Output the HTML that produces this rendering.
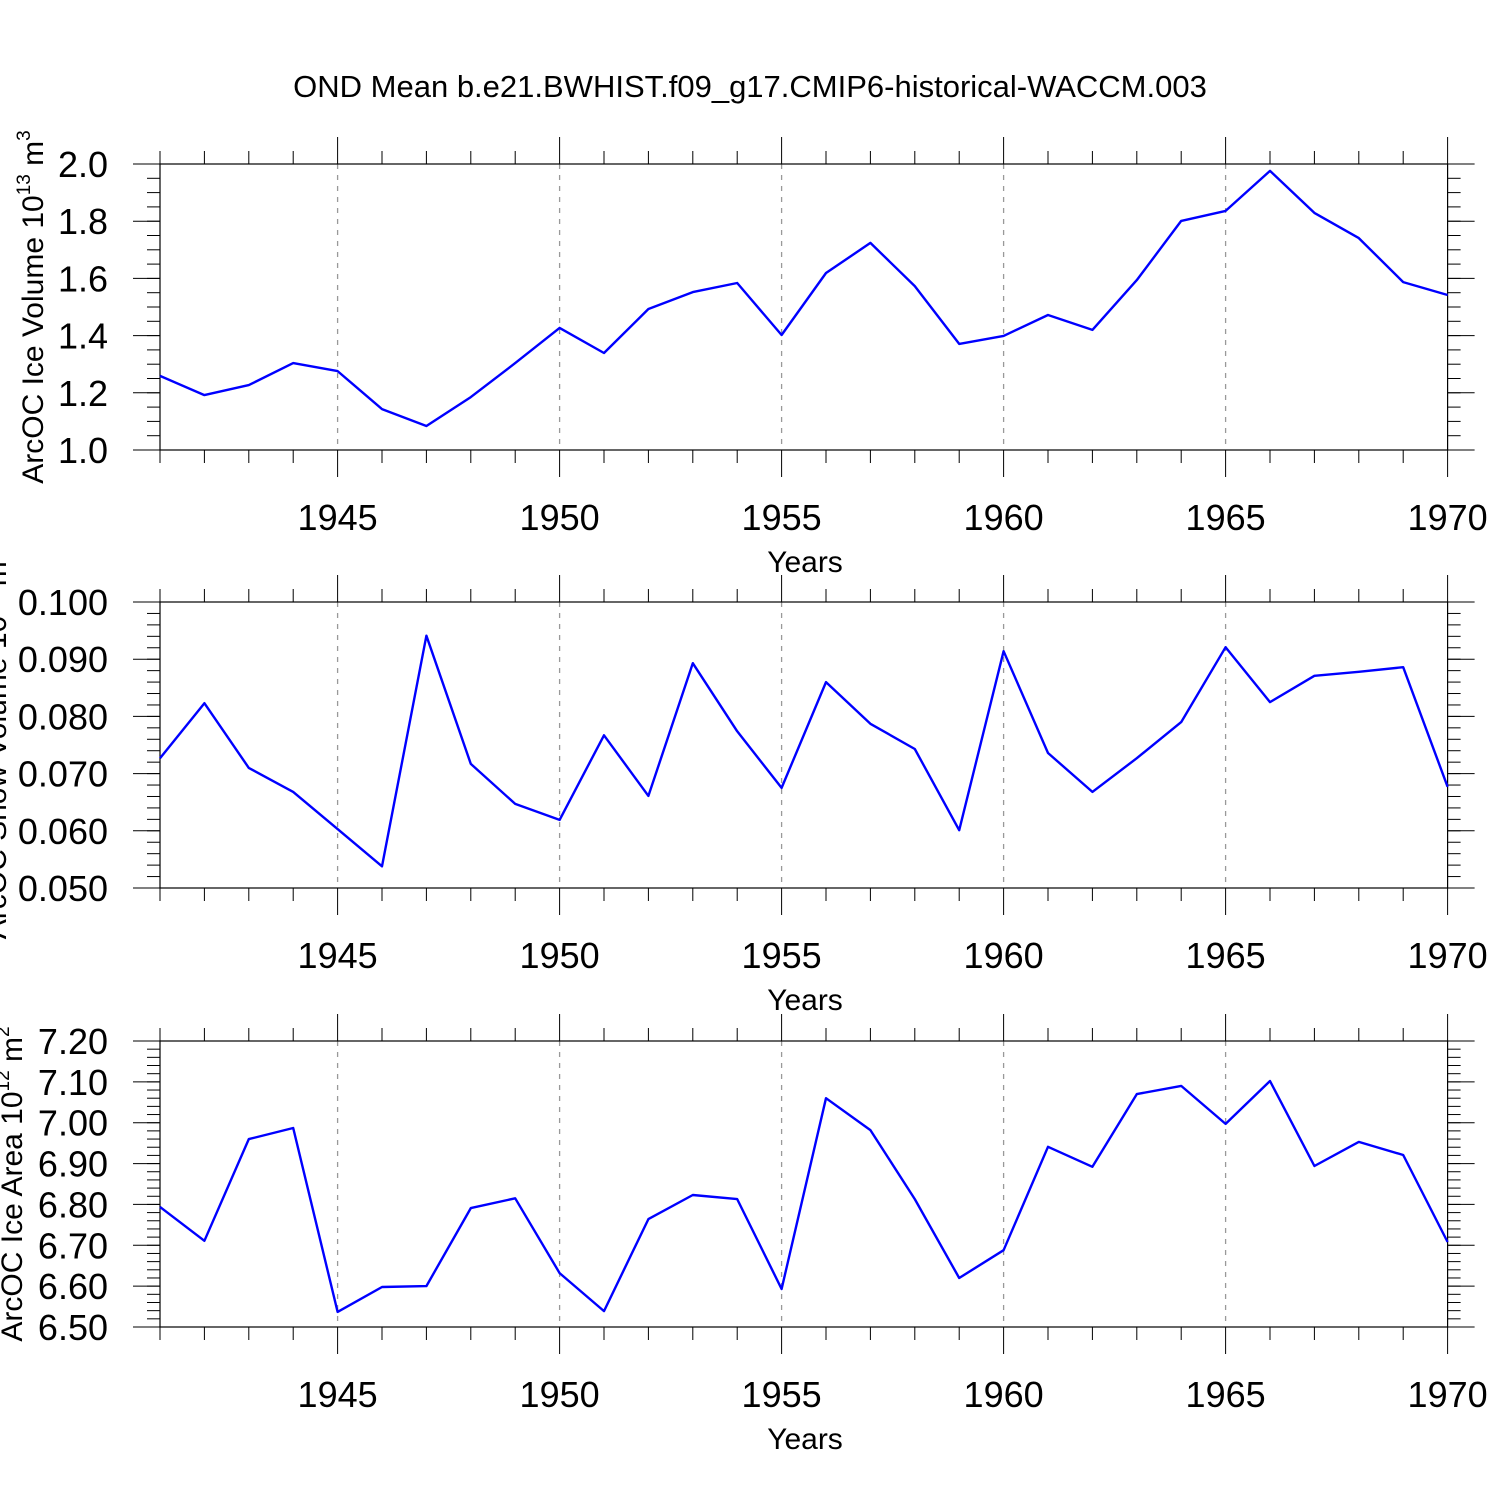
<!DOCTYPE html>
<html><head><meta charset="utf-8">
<style>
html,body{margin:0;padding:0;background:#fff;}
svg{display:block;font-family:"Liberation Sans",Arial,sans-serif;}
</style></head>
<body>
<svg id="chart" width="1500" height="1500" viewBox="0 0 1500 1500" xmlns="http://www.w3.org/2000/svg">
<rect width="1500" height="1500" fill="#fff"/>
<text x="750" y="97" font-size="31" text-anchor="middle">OND Mean b.e21.BWHIST.f09_g17.CMIP6-historical-WACCM.003</text>
</svg>
<script>
const years = [1941,1942,1943,1944,1945,1946,1947,1948,1949,1950,1951,1952,1953,1954,1955,1956,1957,1958,1959,1960,1961,1962,1963,1964,1965,1966,1967,1968,1969,1970];
const iceVolume = [1.259,1.192,1.227,1.304,1.276,1.143,1.084,1.185,1.304,1.427,1.339,1.493,1.552,1.584,1.402,1.619,1.724,1.573,1.371,1.399,1.472,1.420,1.594,1.801,1.836,1.976,1.829,1.741,1.587,1.542];
const snowVolume = [0.0727,0.0823,0.0710,0.0668,0.0603,0.0538,0.0941,0.0717,0.0647,0.0619,0.0767,0.0661,0.0893,0.0774,0.0675,0.0860,0.0787,0.0743,0.0601,0.0914,0.0736,0.0668,0.0727,0.0790,0.0921,0.0825,0.0871,0.0878,0.0886,0.0677];
const iceArea = [6.794,6.711,6.960,6.987,6.537,6.598,6.600,6.791,6.815,6.632,6.539,6.764,6.823,6.813,6.593,7.060,6.982,6.813,6.620,6.688,6.941,6.892,7.070,7.090,6.997,7.102,6.894,6.953,6.921,6.708];
const xTickLabels = [1945,1950,1955,1960,1965,1970];
const yTicks1 = [1.0,1.2,1.4,1.6,1.8,2.0];
const yTicks2 = [0.050,0.060,0.070,0.080,0.090,0.100];
const yTicks3 = [6.50,6.60,6.70,6.80,6.90,7.00,7.10,7.20];

const NS = "http://www.w3.org/2000/svg";
const svg = document.getElementById('chart');
function mk(tag, attrs, parent){
  const e = document.createElementNS(NS, tag);
  for (const k in attrs) e.setAttribute(k, attrs[k]);
  (parent||svg).appendChild(e);
  return e;
}
function xs(yr){ return 160 + (yr - 1941) * 44.4; }
const X0 = xs(1941), X1 = xs(1970);

function panel(idx, top, data, ymin, ymax, yticks, minorStep, dec, labelMain, labelExp, labelUnit, labelX){
  const bottom = top + 286;
  const ys = v => bottom - (v - ymin) / (ymax - ymin) * 286;
  const g = mk('g', {});
  
  
  xTickLabels.forEach(yr => {
    if (yr < 1970) {
      const l = mk('line', {x1: xs(yr), x2: xs(yr), y1: top, y2: bottom, stroke: '#999', 'stroke-width': 1.3, 'stroke-dasharray': '5,6'}, g);
      
      
    }
  });
  const fr = mk('rect', {x: X0, y: top, width: X1 - X0, height: 286, fill: 'none', stroke: '#000', 'stroke-width': 1.2}, g);
  
  
  years.forEach(yr => {
    const major = yr % 5 === 0;
    const len = major ? 27 : 13;
    mk('line', {x1: xs(yr), x2: xs(yr), y1: top, y2: top - len, stroke: '#000', 'stroke-width': 1}, g);
    mk('line', {x1: xs(yr), x2: xs(yr), y1: bottom, y2: bottom + len, stroke: '#000', 'stroke-width': 1}, g);
  });
  xTickLabels.forEach(yr => {
    const t = mk('text', {x: xs(yr), y: bottom + 80, 'font-size': 36, 'text-anchor': 'middle'}, g);
    t.textContent = yr;
    
    
  });
  const xt = mk('text', {x: 805, y: bottom + 122, 'font-size': 30, 'text-anchor': 'middle'}, g);
  xt.textContent = 'Years';
  
  
  const nMinor = Math.round((ymax - ymin) / minorStep);
  for (let i = 0; i <= nMinor; i++) {
    const y = bottom - i * 286 / nMinor;
    mk('line', {x1: X0, x2: X0 - 13, y1: y, y2: y, stroke: '#000', 'stroke-width': 1}, g);
    mk('line', {x1: X1, x2: X1 + 13, y1: y, y2: y, stroke: '#000', 'stroke-width': 1}, g);
  }
  yticks.forEach(v => {
    const y = ys(v);
    mk('line', {x1: X0, x2: X0 - 27, y1: y, y2: y, stroke: '#000', 'stroke-width': 1}, g);
    mk('line', {x1: X1, x2: X1 + 27, y1: y, y2: y, stroke: '#000', 'stroke-width': 1}, g);
    const t = mk('text', {x: 108, y: y + 13, 'font-size': 36, 'text-anchor': 'end'}, g);
    t.textContent = v.toFixed(dec);
    
    
  });
  const cy = top + 143;
  const yl = mk('text', {x: 0, y: 0, 'font-size': 30, 'text-anchor': 'middle', transform: 'translate(' + labelX + ',' + cy + ') rotate(-90)'}, g);
  
  
  const t1 = mk('tspan', {}, yl); t1.textContent = labelMain + ' 10';
  const t2 = mk('tspan', {'font-size': 19, dy: -13}, yl); t2.textContent = labelExp;
  const t3 = mk('tspan', {'font-size': 30, dy: 13}, yl); t3.textContent = ' m';
  const t4 = mk('tspan', {'font-size': 19, dy: -13}, yl); t4.textContent = labelUnit;
  const pts = years.map((yr, i) => xs(yr).toFixed(1) + ',' + ys(data[i]).toFixed(1)).join(' ');
  const pl = mk('polyline', {points: pts, fill: 'none', stroke: '#0000ff', 'stroke-width': 2.4, 'stroke-linejoin': 'round'}, g);
  
  
}
panel(1, 164, iceVolume, 1.0, 2.0, yTicks1, 0.05, 1, 'ArcOC Ice Volume', '13', '3', 43);
panel(2, 602, snowVolume, 0.050, 0.100, yTicks2, 0.002, 3, 'ArcOC Snow Volume', '13', '3', 6);
panel(3, 1041, iceArea, 6.50, 7.20, yTicks3, 0.02, 2, 'ArcOC Ice Area', '12', '2', 22);
</script>
</body></html>
